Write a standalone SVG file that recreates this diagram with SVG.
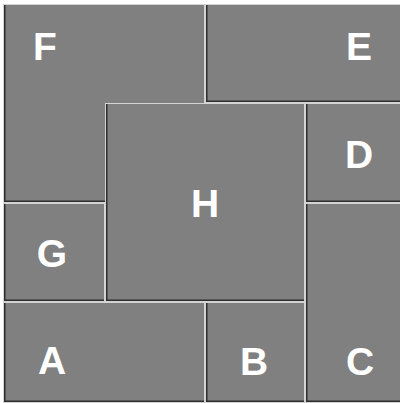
<svg xmlns="http://www.w3.org/2000/svg" width="400" height="403" viewBox="0 0 400 403">
<style>
.fill{fill:#808080}
.hi{fill:none;stroke:#d4d4d4;stroke-width:1}
.sh{fill:none;stroke:#2e2e2e;stroke-width:1.5}
.lbl{font-family:"Liberation Sans",Arial,sans-serif;font-weight:bold;font-size:39px;fill:#ffffff;text-anchor:middle}
</style>
<rect x="0" y="0" width="400" height="403" fill="#ffffff"/>
<g id="F">
<rect class="fill" x="3" y="4" width="202" height="199"/>
<rect class="hi" x="3.5" y="4.5" width="201" height="198"/>
<polyline class="sh" points="4.75,5 4.75,201.25 204,201.25"/>
<text class="lbl" x="45" y="60">F</text>
</g>
<g id="E">
<rect class="fill" x="205" y="4" width="200" height="99"/>
<rect class="hi" x="205.5" y="4.5" width="199" height="98"/>
<polyline class="sh" points="206.75,5 206.75,101.25 404,101.25"/>
<text class="lbl" x="359" y="60">E</text>
</g>
<g id="D">
<rect class="fill" x="305" y="103" width="100" height="100"/>
<rect class="hi" x="305.5" y="103.5" width="99" height="99"/>
<polyline class="sh" points="306.75,104 306.75,201.25 404,201.25"/>
<text class="lbl" x="359" y="168">D</text>
</g>
<g id="C">
<rect class="fill" x="305" y="203" width="100" height="200"/>
<rect class="hi" x="305.5" y="203.5" width="99" height="199"/>
<polyline class="sh" points="306.75,204 306.75,401.25 404,401.25"/>
<text class="lbl" x="360" y="374.5">C</text>
</g>
<g id="G">
<rect class="fill" x="3" y="203" width="102" height="99"/>
<rect class="hi" x="3.5" y="203.5" width="101" height="98"/>
<polyline class="sh" points="4.75,204 4.75,300.25 104,300.25"/>
<text class="lbl" x="52" y="267">G</text>
</g>
<g id="A">
<rect class="fill" x="3" y="302" width="202" height="101"/>
<rect class="hi" x="3.5" y="302.5" width="201" height="100"/>
<polyline class="sh" points="4.75,303 4.75,401.25 204,401.25"/>
<text class="lbl" x="52" y="374">A</text>
</g>
<g id="B">
<rect class="fill" x="205" y="302" width="100" height="101"/>
<rect class="hi" x="205.5" y="302.5" width="99" height="100"/>
<polyline class="sh" points="206.75,303 206.75,401.25 304,401.25"/>
<text class="lbl" x="254" y="374.5">B</text>
</g>
<g id="H">
<rect class="fill" x="105" y="103" width="200" height="199"/>
<rect class="hi" x="105.5" y="103.5" width="199" height="198"/>
<polyline class="sh" points="106.75,104 106.75,300.25 304,300.25"/>
<text class="lbl" x="205" y="216.5">H</text>
</g>
</svg>
